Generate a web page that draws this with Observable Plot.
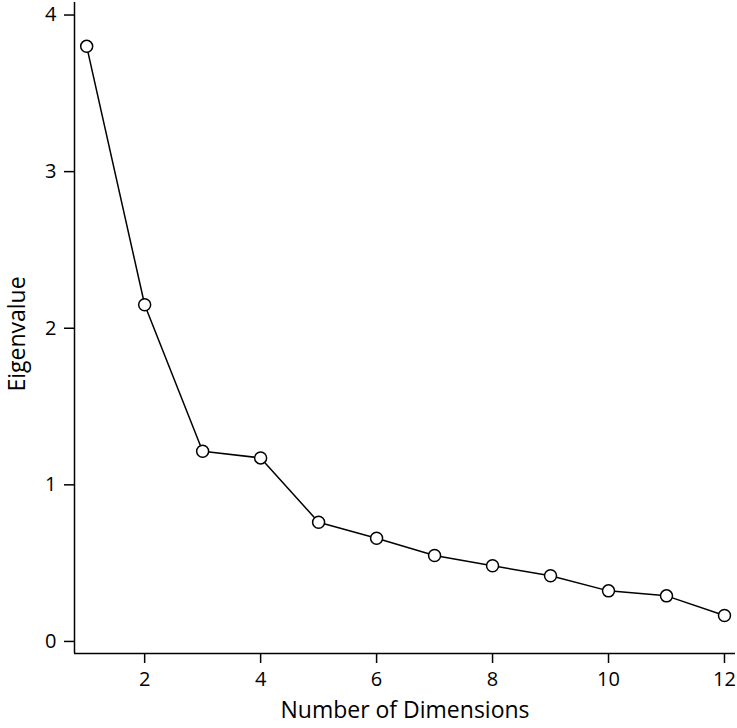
<!DOCTYPE html>
<html><head><meta charset="utf-8">
<script src="https://cdn.jsdelivr.net/npm/d3@7"></script>
<script src="https://cdn.jsdelivr.net/npm/@observablehq/plot@0.6"></script>
<style>
body{margin:0;background:#fff}
</style>
</head><body><div id="chart"></div>
<script>
const dimensions = [1, 2, 3, 4, 5, 6, 7, 8, 9, 10, 11, 12];
const eigenvalues = [3.80, 2.15, 1.214, 1.172, 0.761, 0.659, 0.549, 0.483, 0.419, 0.323, 0.291, 0.166];
const xTicks = [2, 4, 6, 8, 10, 12];
const yTicks = [0, 1, 2, 3, 4];
const xDomain = [0.79, 12.19];
const yDomain = [-0.077, 4.08];
const xLabel = "Number of Dimensions";
const yLabel = "Eigenvalue";

const data = dimensions.map((d, i) => ({dim: d, ev: eigenvalues[i]}));

const chart = Plot.plot({
  width: 737, height: 728,
  marginLeft: 74, marginRight: 2, marginTop: 2, marginBottom: 75,
  style: {fontFamily: "'Open Sans', sans-serif", fontSize: "20px", color: "#000", background: "#fff"},
  x: {domain: xDomain},
  y: {domain: yDomain},
  marks: [
    Plot.axisX({ticks: xTicks, tickFormat: "d", tickSize: 10, tickPadding: 8, label: null, fontSize: 20, strokeWidth: 1.5}),
    Plot.axisY({ticks: yTicks, tickFormat: "d", tickSize: 10, tickPadding: 8, label: null, fontSize: 20, strokeWidth: 1.5}),
    Plot.ruleY([yDomain[0]], {stroke: "#000", strokeWidth: 1.5}),
    Plot.ruleX([xDomain[0]], {stroke: "#000", strokeWidth: 1.5}),
    Plot.line(data, {x: "dim", y: "ev", stroke: "#000", strokeWidth: 1.5}),
    Plot.dot(data, {x: "dim", y: "ev", r: 6, stroke: "#000", fill: "#fff", strokeWidth: 1.5}),
    Plot.text([xLabel], {frameAnchor: "bottom", textAnchor: "middle", dy: 64, fontSize: 23}),
    Plot.text([yLabel], {frameAnchor: "left", textAnchor: "middle", rotate: -90, dx: -57, dy: 6, fontSize: 23})
  ]
});
document.getElementById("chart").appendChild(chart);
</script>
</body></html>
